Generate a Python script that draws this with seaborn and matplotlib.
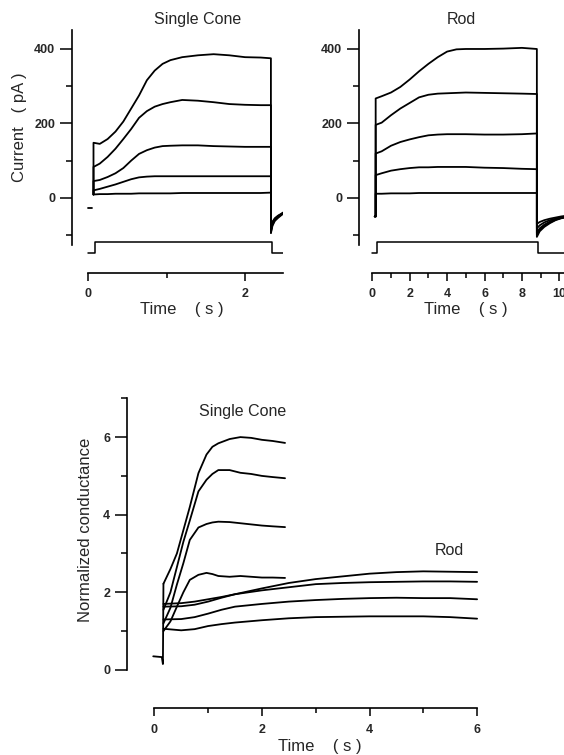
import matplotlib
matplotlib.use("Agg")
import matplotlib.pyplot as plt
from matplotlib.ticker import FixedLocator
import seaborn as sns

# ---- top left: single cone current (pA) ----
cone_time = [0.07, 0.15, 0.25, 0.35, 0.45, 0.55, 0.65, 0.75, 0.85, 0.95,
             1.05, 1.2, 1.4, 1.6, 1.8, 2.0, 2.2, 2.33]
cone_pA = [
    [148, 145, 158, 178, 205, 240, 275, 316, 342, 360, 370, 378, 383, 386, 383, 378, 377, 375],
    [83, 92, 110, 132, 158, 185, 215, 233, 245, 252, 257, 263, 261, 257, 252, 250, 249, 249],
    [45, 48, 56, 66, 80, 100, 118, 128, 135, 139, 140, 141, 141, 139, 138, 137, 137, 137],
    [20, 24, 30, 36, 43, 50, 55, 57, 58, 58, 58, 58, 58, 58, 58, 58, 58, 58],
    [9, 10, 10, 11, 11, 11, 12, 12, 12, 12, 12, 13, 13, 13, 13, 13, 13, 14],
]
cone_tail_time = [2.33, 2.35, 2.38, 2.42, 2.46, 2.49]
cone_tail_pA = [
    [-95, -75, -62, -54, -47, -42],
    [-92, -72, -60, -52, -46, -41],
    [-88, -69, -58, -50, -45, -40],
    [-85, -66, -56, -49, -44, -40],
    [-82, -64, -55, -48, -43, -39],
]
cone_pre_time = [0.0, 0.05]
cone_pre_pA = [-26, -26]
cone_stim_time = [0.0, 0.085, 0.085, 2.34, 2.34, 2.49]
cone_stim_on = [0, 0, 1, 1, 0, 0]

# ---- top right: rod current (pA) ----
rod_time = [0.18, 0.5, 1.0, 1.5, 2.0, 2.5, 3.0, 3.5, 4.0, 4.5, 5.0, 6.0, 7.0, 8.0, 8.8]
rod_pA = [
    [267, 273, 283, 298, 318, 340, 360, 378, 393, 399, 400, 400, 401, 403, 400],
    [196, 202, 222, 240, 255, 270, 277, 280, 281, 282, 283, 282, 281, 280, 279],
    [119, 125, 140, 150, 157, 163, 168, 170, 171, 171, 171, 170, 170, 171, 173],
    [61, 66, 73, 77, 80, 82, 82, 83, 83, 83, 83, 81, 80, 78, 77],
    [11, 11, 12, 12, 12, 13, 13, 13, 13, 13, 13, 13, 13, 13, 13],
]
rod_tail_time = [8.8, 8.95, 9.2, 9.5, 9.8, 10.1, 10.4]
rod_tail_pA = [
    [-105, -90, -78, -68, -60, -55, -52],
    [-95, -82, -72, -64, -58, -54, -51],
    [-82, -74, -66, -60, -56, -52, -50],
    [-70, -65, -60, -56, -53, -50, -48],
    [-100, -86, -75, -66, -59, -54, -51],
]
rod_pre_time = [0.13, 0.18]
rod_pre_pA = [-50, -50]
rod_stim_time = [0.0, 0.23, 0.23, 8.87, 8.87, 10.4]
rod_stim_on = [0, 0, 1, 1, 0, 0]

# ---- bottom: normalized conductance ----
g_cone_time = [0.17, 0.3, 0.42, 0.54, 0.66, 0.82, 0.97, 1.08, 1.19, 1.4, 1.6,
               1.8, 2.0, 2.2, 2.43]
g_cone = [
    [2.22, 2.6, 3.0, 3.6, 4.2, 5.07, 5.55, 5.75, 5.84, 5.95, 6.0, 5.98, 5.93, 5.9, 5.85],
    [1.55, 2.0, 2.65, 3.3, 3.85, 4.6, 4.9, 5.05, 5.15, 5.15, 5.08, 5.05, 5.0, 4.97, 4.94],
    [1.2, 1.6, 2.2, 2.75, 3.35, 3.67, 3.76, 3.8, 3.82, 3.81, 3.78, 3.75, 3.72, 3.7, 3.68],
    [1.0, 1.25, 1.63, 2.0, 2.32, 2.45, 2.5, 2.47, 2.42, 2.4, 2.42, 2.4, 2.38, 2.38, 2.37],
]
g_rod_time = [0.17, 0.5, 0.75, 1.0, 1.25, 1.5, 2.0, 2.5, 3.0, 3.5, 4.0, 4.5, 5.0, 5.5, 6.0]
g_rod = [
    [1.7, 1.72, 1.76, 1.82, 1.88, 1.95, 2.1, 2.24, 2.34, 2.41, 2.48, 2.52, 2.54, 2.53, 2.52],
    [1.63, 1.64, 1.68, 1.76, 1.86, 1.95, 2.05, 2.13, 2.21, 2.24, 2.26, 2.27, 2.28, 2.28, 2.27],
    [1.3, 1.31, 1.36, 1.45, 1.55, 1.63, 1.7, 1.76, 1.8, 1.83, 1.85, 1.86, 1.85, 1.85, 1.82],
    [1.06, 1.02, 1.05, 1.13, 1.18, 1.22, 1.28, 1.33, 1.36, 1.37, 1.38, 1.38, 1.38, 1.36, 1.32],
]
g_pre_time = [-0.02, 0.14, 0.16, 0.17]
g_pre = [0.35, 0.33, 0.15, 2.22]

sns.set_style("ticks")
plt.rcParams["font.family"] = ["Liberation Sans", "DejaVu Sans"]

LW = 1.3
TICK_FS = 9


def trace(ax, x, y, lw=LW):
    sns.lineplot(x=x, y=y, ax=ax, color="black", lw=lw, sort=False,
                 estimator=None, legend=False)


def style(ax):
    for s in ["top", "right"]:
        ax.spines[s].set_visible(False)
    for s in ["left", "bottom"]:
        ax.spines[s].set_linewidth(1.2)
        ax.spines[s].set_color("black")
    ax.tick_params(which="both", direction="out", width=1.1, color="black")
    ax.tick_params(axis="y", which="major", length=9, pad=3)
    ax.tick_params(axis="y", which="minor", length=4.5)
    ax.tick_params(axis="x", which="major", length=6, pad=5)
    ax.tick_params(axis="x", which="minor", length=3.5)
    ax.set_xlabel("")
    ax.set_ylabel("")


def ticks(ax, axis, major, minor):
    a = ax.xaxis if axis == "x" else ax.yaxis
    a.set_major_locator(FixedLocator(major))
    a.set_minor_locator(FixedLocator(minor))
    labels = [str(v) for v in major]
    if axis == "x":
        ax.set_xticklabels(labels, fontweight="bold", fontsize=TICK_FS)
    else:
        ax.set_yticklabels(labels, fontweight="bold", fontsize=TICK_FS)


fig = plt.figure(figsize=(5.64, 7.55), dpi=100)

# top panels
ax_c = fig.add_axes([72 / 564, 1 - 273 / 755, 211 / 564, 243 / 755])
ax_r = fig.add_axes([359 / 564, 1 - 273 / 755, 205 / 564, 243 / 755])

stim_base, stim_h = -148, 30
for vals, tail in zip(cone_pA, cone_tail_pA):
    trace(ax_c, [cone_time[0]] + cone_time + cone_tail_time,
          [cone_pA[-1][0]] + vals + tail)
trace(ax_c, cone_pre_time, cone_pre_pA)
trace(ax_c, cone_stim_time, [stim_base + stim_h * s for s in cone_stim_on], lw=1.1)

for vals, tail in zip(rod_pA, rod_tail_pA):
    trace(ax_r, rod_pre_time + rod_time + rod_tail_time,
          rod_pre_pA + vals + tail)
trace(ax_r, rod_stim_time, [stim_base + stim_h * s for s in rod_stim_on], lw=1.1)

for ax in (ax_c, ax_r):
    style(ax)
    ax.set_ylim(-202, 451)
    ax.spines["left"].set_bounds(-126, 451)
    ticks(ax, "y", [0, 200, 400], [-100, 100, 300])

ax_c.set_xlim((72 - 88) / 78.5, (283 - 88) / 78.5)
ax_c.spines["bottom"].set_bounds(0, (283 - 88) / 78.5)
ticks(ax_c, "x", [0, 2], [1])

ax_r.set_xlim((359 - 372.3) / 18.7, (564 - 372.3) / 18.7)
ax_r.spines["bottom"].set_bounds(0, (564 - 372.3) / 18.7)
ticks(ax_r, "x", [0, 2, 4, 6, 8, 10], [1, 3, 5, 7, 9])

ax_c.set_ylabel("Current   ( pA )", fontsize=12)
ax_c.yaxis.set_label_coords(-0.215, 0.60)
for ax in (ax_c, ax_r):
    ax.set_xlabel("Time    ( s )", fontsize=12)
    ax.xaxis.set_label_coords(0.52, -0.118)
    ax.xaxis.label.set_va("top")
ax_c.text(0.597, 1.045, "Single Cone", transform=ax_c.transAxes,
          ha="center", va="center", fontsize=11.5)
ax_r.text(0.501, 1.045, "Rod", transform=ax_r.transAxes,
          ha="center", va="center", fontsize=11.5)

# bottom panel
ax_g = fig.add_axes([126.7 / 564, 1 - 708.3 / 755, 353.3 / 564, 310 / 755])
trace(ax_g, g_pre_time, g_pre)
for vals in g_cone:
    trace(ax_g, g_cone_time, vals)
for vals in g_rod:
    trace(ax_g, g_rod_time, vals)
style(ax_g)
ax_g.set_xlim((126.7 - 154.3) / 53.8, (480 - 154.3) / 53.8)
ax_g.set_ylim(-0.99, 7.0)
ax_g.spines["left"].set_bounds(0, 7)
ax_g.spines["bottom"].set_bounds(0, 6)
ticks(ax_g, "y", [0, 2, 4, 6], [1, 3, 5, 7])
ticks(ax_g, "x", [0, 2, 4, 6], [1, 3, 5])
ax_g.set_ylabel("Normalized conductance", fontsize=12)
ax_g.yaxis.set_label_coords(-0.095, 0.575)
ax_g.set_xlabel("Time    ( s )", fontsize=12)
ax_g.xaxis.set_label_coords(0.547, -0.10)
ax_g.xaxis.label.set_va("top")
ax_g.text(1.65, 6.65, "Single Cone", ha="center", va="center", fontsize=11.5)
ax_g.text(5.48, 3.07, "Rod", ha="center", va="center", fontsize=11.5)

fig.savefig("out.png", dpi=100)
